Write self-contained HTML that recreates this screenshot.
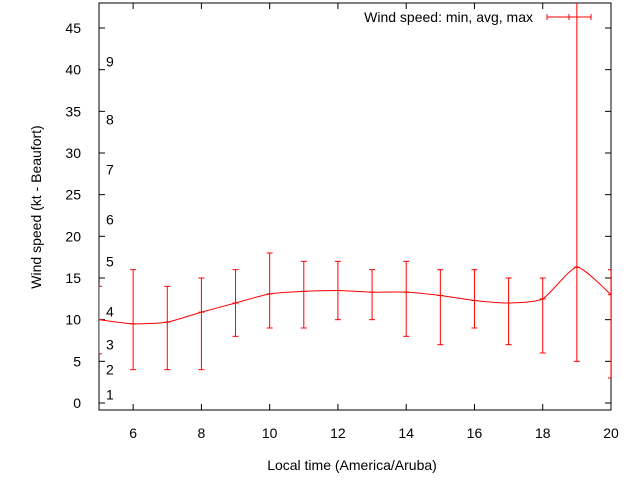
<!DOCTYPE html>
<html><head><meta charset="utf-8"><style>
body{margin:0;background:#fff}
svg{display:block;font-family:"Liberation Sans",sans-serif}
</style></head><body>
<svg id="chart" width="640" height="480">
<rect x="99" y="3" width="512" height="407" fill="none" stroke="#000" stroke-width="1"/>
<g id="axes"></g>
<g id="beaufort"></g>
<g id="series"></g>
<text x="533" y="22" text-anchor="end" font-size="14">Wind speed: min, avg, max</text>
<g stroke="red" stroke-width="1">
<line x1="547" y1="17" x2="591" y2="17"/><line x1="547" y1="14" x2="547" y2="20"/><line x1="591" y1="14" x2="591" y2="20"/><line x1="569" y1="14" x2="569" y2="20"/>
</g>
<text x="352" y="470" text-anchor="middle" font-size="14">Local time (America/Aruba)</text>
<text transform="translate(41,207) rotate(-90)" text-anchor="middle" font-size="14">Wind speed (kt - Beaufort)</text>
</svg>
<script>
const hours=[5,6,7,8,9,10,11,12,13,14,15,16,17,18,19,20];
const avgs=[10,9.5,9.7,10.9,12,13.1,13.4,13.5,13.3,13.3,12.9,12.3,12,12.5,16.3,13];
const mins=[5.9,4,4,4,8,9,9,10,10,8,7,9,7,6,5,3];
const maxs=[14,16,14,15,16,18,17,17,16,17,16,16,15,15,60,16];
const xTicks=[6,8,10,12,14,16,18,20];
const yTicks=[0,5,10,15,20,25,30,35,40,45];
const bfLabels=["1","2","3","4","5","6","7","8","9"];
const bfVals=[1,4,7,11,17,22,28,34,41];
const X=v=>99+(v-5)*512/15;
const Y=v=>403-v*375/45;
const NS="http://www.w3.org/2000/svg";
function mk(t,a,p){const e=document.createElementNS(NS,t);for(const k in a)e.setAttribute(k,a[k]);p.appendChild(e);return e;}
const ax=document.getElementById('axes');
xTicks.forEach(t=>{
 const g=mk('g',{stroke:'#000'},ax);
 
 
 mk('line',{x1:X(t),x2:X(t),y1:410,y2:404},g);
 mk('line',{x1:X(t),x2:X(t),y1:3,y2:9},g);
 const tx=mk('text',{x:X(t),y:438,'text-anchor':'middle','font-size':14},ax);
 tx.textContent=t;
 
 
});
yTicks.forEach(t=>{
 const g=mk('g',{stroke:'#000'},ax);
 
 
 mk('line',{x1:99,x2:105,y1:Y(t),y2:Y(t)},g);
 mk('line',{x1:611,x2:605,y1:Y(t),y2:Y(t)},g);
 const tx=mk('text',{x:81,y:Y(t)+5,'text-anchor':'end','font-size':14},ax);
 tx.textContent=t;
 
 
});
const bf=document.getElementById('beaufort');
bfLabels.forEach((l,i)=>{
 const tx=mk('text',{x:106,y:Y(bfVals[i])+5,'font-size':14},bf);
 tx.textContent=l;
 
 
});
const s=document.getElementById('series');
const clip=mk('clipPath',{id:'pc'},s);mk('rect',{x:99,y:3,width:512,height:407},clip);
const gs=mk('g',{'clip-path':'url(#pc)',stroke:'red',fill:'none','stroke-width':1},s);
const pts=hours.map((h,i)=>[X(h),Y(avgs[i])]);
const k=10;
let d='M'+pts[0][0]+','+pts[0][1];
for(let i=0;i<pts.length-1;i++){
 const p0=pts[Math.max(0,i-1)],p1=pts[i],p2=pts[i+1],p3=pts[Math.min(pts.length-1,i+2)];
 d+=' C'+(p1[0]+(p2[0]-p0[0])/k)+','+(p1[1]+(p2[1]-p0[1])/k)+' '+(p2[0]-(p3[0]-p1[0])/k)+','+(p2[1]-(p3[1]-p1[1])/k)+' '+p2[0]+','+p2[1];
}
const line=mk('path',{d:d},gs);


hours.forEach((h,i)=>{
 const g=mk('g',{},gs);
 
 
 const x=X(h);
 mk('line',{x1:x,x2:x,y1:Y(mins[i]),y2:Y(maxs[i])},g);
 mk('line',{x1:x-3,x2:x+3,y1:Y(mins[i]),y2:Y(mins[i])},g);
 mk('line',{x1:x-3,x2:x+3,y1:Y(maxs[i]),y2:Y(maxs[i])},g);
 mk('line',{x1:x-3,x2:x+3,y1:Y(avgs[i]),y2:Y(avgs[i])},g);
});
</script>
</body></html>
